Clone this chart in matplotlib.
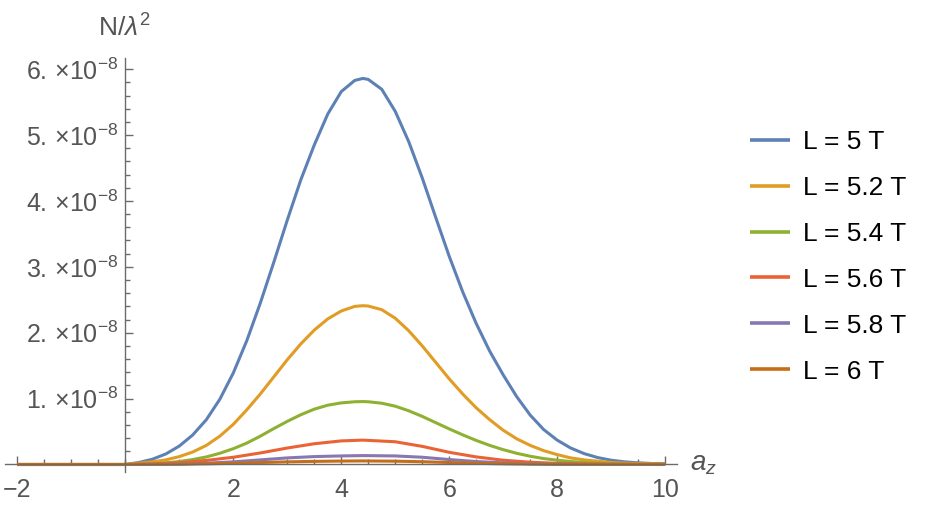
import numpy as np
import matplotlib
matplotlib.use("Agg")
import matplotlib.pyplot as plt
from matplotlib.ticker import MultipleLocator, FixedLocator

plt.rcParams['font.family'] = ['Liberation Sans', 'DejaVu Sans']
plt.rcParams['mathtext.fontset'] = 'custom'
plt.rcParams['mathtext.rm'] = 'Liberation Sans'
plt.rcParams['mathtext.it'] = 'Liberation Sans:italic'

# values, y in units of 1e-8
x_blue = [-2, 0, 0.25, 0.5, 0.75, 1.0, 1.25, 1.5, 1.75, 2.0, 2.25, 2.5, 2.75, 3.0, 3.25, 3.5, 3.75, 4.0,
          4.25, 4.4, 4.5, 4.75, 5.0, 5.25, 5.5, 5.75, 6.0, 6.25, 6.5, 6.75, 7.0, 7.25, 7.5, 7.75, 8.0,
          8.25, 8.5, 8.75, 9.0, 9.25, 9.5, 9.75, 10]
y_blue = [0, 0, 0.03, 0.08, 0.16, 0.28, 0.45, 0.68, 0.99, 1.39, 1.88, 2.45, 3.07, 3.71, 4.32, 4.85, 5.32, 5.66,
          5.83, 5.86, 5.845, 5.695, 5.36, 4.90, 4.35, 3.75, 3.16, 2.62, 2.14, 1.72, 1.36, 1.03, 0.75, 0.53, 0.37,
          0.25, 0.165, 0.105, 0.065, 0.04, 0.025, 0.015, 0.01]

x_orange = [-2, 0, 0.25, 0.5, 0.75, 1.0, 1.25, 1.5, 1.75, 2.0, 2.25, 2.5, 2.75, 3.0, 3.25, 3.5, 3.75, 4.0,
            4.25, 4.4, 4.5, 4.75, 5.0, 5.25, 5.5, 5.75, 6.0, 6.25, 6.5, 6.75, 7.0, 7.25, 7.5, 7.75, 8.0,
            8.25, 8.5, 8.75, 9.0, 9.25, 9.5, 9.75, 10]
y_orange = [0, 0, 0.02, 0.04, 0.07, 0.12, 0.19, 0.29, 0.43, 0.61, 0.83, 1.07, 1.33, 1.59, 1.83, 2.04, 2.21, 2.33,
            2.40, 2.41, 2.405, 2.35, 2.22, 2.03, 1.80, 1.55, 1.30, 1.07, 0.86, 0.68, 0.52, 0.39, 0.29, 0.21, 0.15,
            0.10, 0.07, 0.05, 0.03, 0.02, 0.015, 0.01, 0.005]

x_green = [-2, 0, 0.25, 0.5, 0.75, 1.0, 1.25, 1.5, 1.75, 2.0, 2.25, 2.5, 2.75, 3.0, 3.25, 3.5, 3.75, 4.0,
           4.25, 4.4, 4.5, 4.75, 5.0, 5.25, 5.5, 5.75, 6.0, 6.25, 6.5, 6.75, 7.0, 7.25, 7.5, 7.75, 8.0,
           8.25, 8.5, 8.75, 9.0, 9.25, 9.5, 9.75, 10]
y_green = [0, 0, 0.004, 0.01, 0.025, 0.045, 0.075, 0.115, 0.17, 0.24, 0.325, 0.43, 0.545, 0.655, 0.755, 0.84,
           0.90, 0.935, 0.952, 0.955, 0.952, 0.93, 0.885, 0.815, 0.73, 0.635, 0.54, 0.45, 0.365, 0.29, 0.225,
           0.17, 0.125, 0.09, 0.065, 0.045, 0.03, 0.02, 0.013, 0.008, 0.005, 0.003, 0.002]

x_red = [-2, 0, 0.5, 1.0, 1.5, 2.0, 2.5, 3.0, 3.5, 4.0, 4.4, 5.0, 5.5, 6.0, 6.5, 7.0, 7.5, 8.0, 8.5, 9.0, 9.5, 10]
y_red = [0, 0, 0.008, 0.028, 0.062, 0.11, 0.175, 0.25, 0.315, 0.358, 0.37, 0.345, 0.275, 0.185, 0.115, 0.065,
         0.035, 0.017, 0.008, 0.004, 0.002, 0.001]

x_purple = [-2, 0, 0.5, 1.0, 1.5, 2.0, 2.5, 3.0, 3.5, 4.0, 4.4, 5.0, 5.5, 6.0, 6.5, 7.0, 7.5, 8.0, 9.0, 10]
y_purple = [0, 0, 0.003, 0.008, 0.02, 0.04, 0.07, 0.10, 0.12, 0.13, 0.135, 0.13, 0.11, 0.075, 0.045, 0.025,
            0.012, 0.006, 0.002, 0]

x_brown = [-2, 0, 1.0, 1.5, 2.0, 2.5, 3.0, 3.5, 4.0, 4.4, 5.0, 5.5, 6.0, 6.5, 7.0, 7.5, 8.0, 9.0, 10]
y_brown = [0, 0, 0.003, 0.01, 0.018, 0.03, 0.04, 0.047, 0.052, 0.054, 0.05, 0.042, 0.03, 0.018, 0.01, 0.005,
           0.002, 0.001, 0]

series = [
    (x_blue, y_blue, "L = 5 T", "#5E81B5"),
    (x_orange, y_orange, "L = 5.2 T", "#E19C24"),
    (x_green, y_green, "L = 5.4 T", "#8FB032"),
    (x_red, y_red, "L = 5.6 T", "#EB6235"),
    (x_purple, y_purple, "L = 5.8 T", "#8778B3"),
    (x_brown, y_brown, "L = 6 T", "#C56E1A"),
]

ytick_vals = [1, 2, 3, 4, 5, 6]
ytick_labels = [r"$%d.\,{\times}10^{-8}$" % v for v in ytick_vals]
xtick_vals = [-2, 2, 4, 6, 8, 10]

axis_gray = "#6b6b6b"
label_gray = "#555555"

fig = plt.figure(figsize=(9.41, 5.23), dpi=100)
ax = fig.add_axes([5/941, 1 - 472/523, 672/941, (472 - 58)/523])

for xs, ys, lab, col in series:
    ax.plot(xs, ys, color=col, lw=2.2, label=lab, solid_capstyle='butt', solid_joinstyle='round')

ax.set_xlim(-2.23, 10.22)
ax.set_ylim(-0.114, 6.17)

for s in ['top', 'right']:
    ax.spines[s].set_visible(False)
ax.spines['left'].set_position(('data', 0))
ax.spines['bottom'].set_position(('data', 0))
for s in ['left', 'bottom']:
    ax.spines[s].set_color(axis_gray)
    ax.spines[s].set_linewidth(1.0)

ax.xaxis.set_major_locator(FixedLocator(xtick_vals))
ax.xaxis.set_minor_locator(MultipleLocator(0.5))
ax.set_xticklabels([("\u22122" if v < 0 else str(v)) for v in xtick_vals])
ax.yaxis.set_major_locator(FixedLocator(ytick_vals))
ax.yaxis.set_minor_locator(MultipleLocator(0.2))
ax.set_yticklabels(ytick_labels)

ax.tick_params(axis='both', which='both', direction='in', color=axis_gray, width=1.0,
               labelcolor=label_gray, labelsize=18)
ax.tick_params(axis='both', which='major', length=6)
ax.tick_params(axis='both', which='minor', length=3.5)
ax.tick_params(axis='x', which='major', pad=10)
ax.tick_params(axis='y', which='major', pad=5)

fig.text(124/941, 1 - 28/523, r"N/$\lambda^{2}$", ha='center', va='center', fontsize=19, color=label_gray)
ax.text(10.47, 0, r"$a_z$", ha='left', va='center', fontsize=20, color=label_gray)

leg = fig.legend(loc='upper left', bbox_to_anchor=(750/941, 1 - 130/523), frameon=False,
                 fontsize=19, handlelength=1.52, handletextpad=0.49, labelspacing=0.83,
                 borderaxespad=0, borderpad=0)
for line in leg.get_lines():
    line.set_linewidth(2.6)

fig.savefig("out.png", dpi=100)
